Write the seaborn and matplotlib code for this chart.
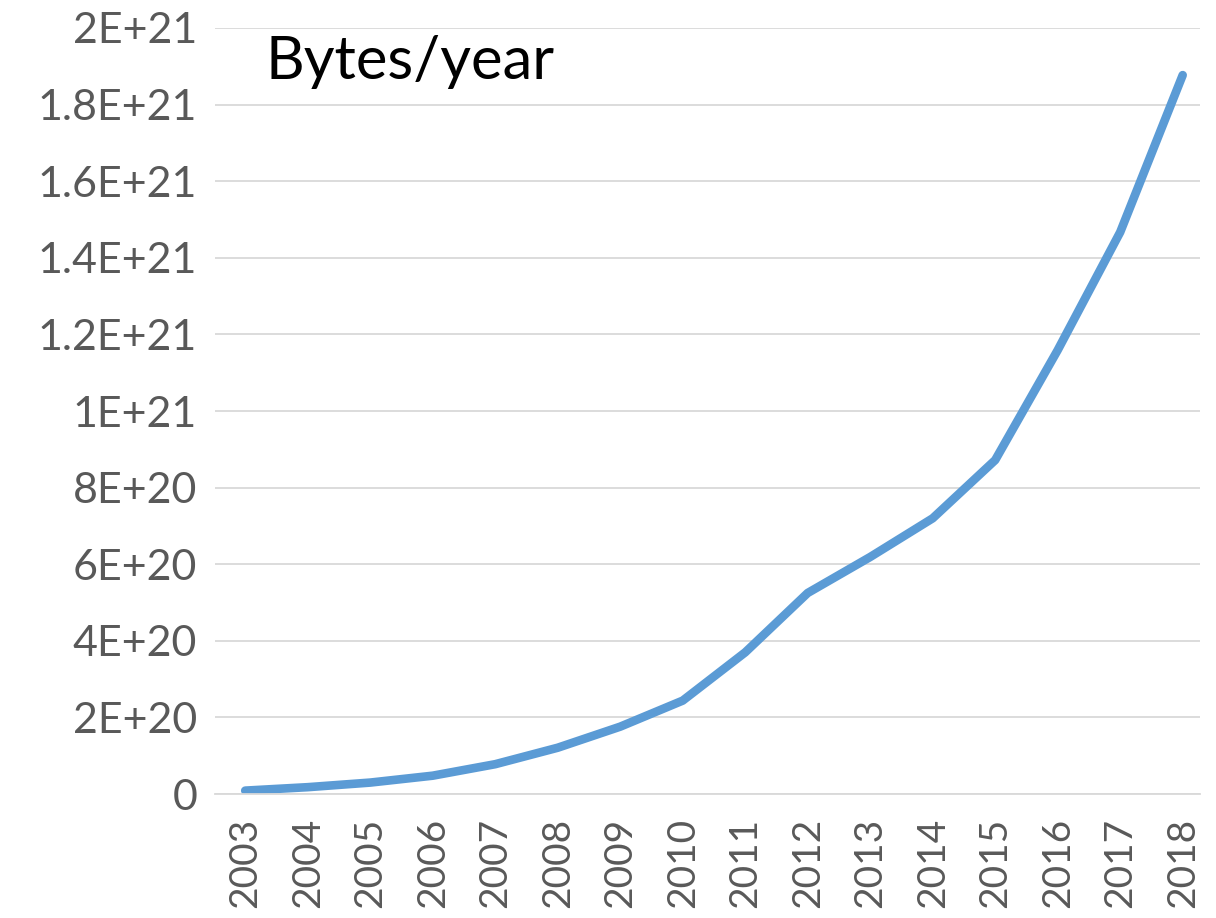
import pandas as pd
import matplotlib.pyplot as plt
import seaborn as sns

# =========================
# DATA
# =========================
years = [str(y) for y in range(2003, 2019)]
bytes_per_year = [
    0.009e21, 0.018e21, 0.030e21, 0.048e21, 0.078e21, 0.121e21, 0.176e21, 0.244e21,
    0.370e21, 0.525e21, 0.619e21, 0.720e21, 0.872e21, 1.159e21, 1.467e21, 1.877e21,
]
y_ticks = [i * 0.2e21 for i in range(11)]
y_labels = ["0", "2E+20", "4E+20", "6E+20", "8E+20", "1E+21",
            "1.2E+21", "1.4E+21", "1.6E+21", "1.8E+21", "2E+21"]

df = pd.DataFrame({"year": years, "bytes": bytes_per_year})

sns.set_style("white")
plt.rcParams["font.family"] = ["Lato", "DejaVu Sans"]

fig = plt.figure(figsize=(12.16, 9.18), dpi=100)
ax = fig.add_axes([0.177, 0.135, 0.81, 0.8345])

# =========================
# LINE
# =========================
sns.lineplot(data=df, x="year", y="bytes", color="#5B9BD5", linewidth=6.2,
             ax=ax, sort=False)
ax.lines[0].set_solid_capstyle("round")
ax.lines[0].set_solid_joinstyle("round")

ax.set_ylim(0, 2e21)
ax.set_xlim(-0.48, 15.28)
ax.set_yticks(y_ticks)
ax.set_yticklabels(y_labels)
ax.yaxis.grid(True, color="#D9D9D9", linewidth=1.3)
ax.set_axisbelow(True)

for side in ["top", "right", "left"]:
    ax.spines[side].set_visible(False)
ax.spines["bottom"].set_color("#D9D9D9")
ax.spines["bottom"].set_linewidth(1.3)

ax.tick_params(axis="y", length=0, labelsize=31, labelcolor="#595959", pad=13)
ax.tick_params(axis="x", length=0, labelsize=28, labelcolor="#595959", pad=17,
               labelrotation=90)
ax.set_xlabel("")
ax.set_ylabel("")

ax.text(0.051, 0.955, "Bytes/year", transform=ax.transAxes, fontsize=43,
        color="black", va="center", ha="left")

plt.savefig("out.png", dpi=100)
